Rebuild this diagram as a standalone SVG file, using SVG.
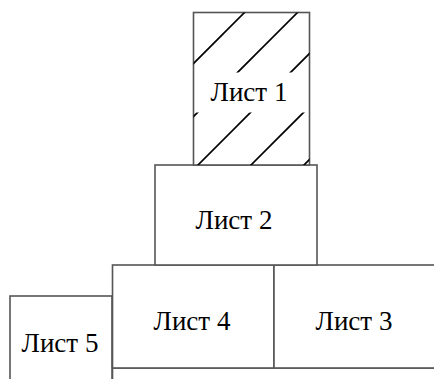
<svg xmlns="http://www.w3.org/2000/svg" width="434" height="379" viewBox="0 0 434 379">
<style>
.box{fill:#fff;stroke:#555;stroke-width:1.6}
.lbl{font-family:"Liberation Serif","Times New Roman",serif;font-size:27px;fill:#000;text-anchor:middle}
.hatch{stroke:#000;stroke-width:1.7}
</style>
<defs>
<clipPath id="hc">
<rect x="193.5" y="12.5" width="116" height="60"/>
<rect x="193.5" y="112.5" width="116" height="52.5"/>
</clipPath>
</defs>
<rect width="434" height="379" fill="#fff"/>
<g id="bottom-box"><rect class="box" x="112.5" y="368" width="330" height="40"/></g>
<g id="list5"><rect class="box" x="10" y="296" width="102" height="100"/><text class="lbl" x="60" y="352">Лист 5</text></g>
<g id="list4"><rect class="box" x="112.5" y="265" width="161.5" height="103"/><text class="lbl" x="192" y="330">Лист 4</text></g>
<g id="list3"><rect class="box" x="274" y="265" width="170" height="103"/><text class="lbl" x="354" y="330">Лист 3</text></g>
<g id="list2"><rect class="box" x="155" y="165" width="162" height="100"/><text class="lbl" x="234" y="229">Лист 2</text></g>
<g id="list1">
<rect class="box" x="193.5" y="12.5" width="116" height="152.5"/>
<g class="hatch" clip-path="url(#hc)">
<line x1="150" y1="107" x2="260" y2="-3"/>
<line x1="150" y1="160" x2="320" y2="-10"/>
<line x1="180" y1="183" x2="330" y2="33"/>
<line x1="180" y1="236" x2="330" y2="86"/>
<line x1="280" y1="189" x2="330" y2="139"/>
</g>
<text class="lbl" x="249" y="101">Лист 1</text>
</g>
<g id="connectors"/>
</svg>
